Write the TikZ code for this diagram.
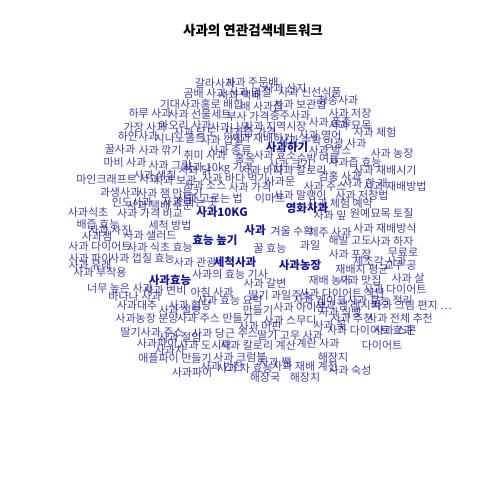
\documentclass[tikz,border=0pt]{standalone}
\usepackage{fontspec}
\newfontfamily\kr{Noto Sans CJK KR}
\usetikzlibrary{backgrounds}
\definecolor{lblblue}{RGB}{0,0,139}
\begin{document}
\begin{tikzpicture}[x=1pt,y=-1pt,
  lbl/.style={font=\kr\fontsize{11}{11}\selectfont, text=lblblue, text opacity=0.75, inner sep=0pt},
  hub/.style={font=\kr\bfseries\fontsize{11.5}{12}\selectfont, text=lblblue, text opacity=0.9, inner sep=0pt},
  edge/.style={draw=black!22, line width=1.3pt},
  ttl/.style={font=\kr\bfseries\fontsize{13.5}{14}\selectfont, text=black, inner sep=0pt}]
\fill[white] (0,0) rectangle (480,480);
\useasboundingbox (0,0) rectangle (480,480);
\node[ttl] (title) at (253,30) {사과의 연관검색네트워크};
\foreach \n/\x/\y/\t in {
 t1/215/83/갈라사과, t2/252/82/사과 주문배, t3/205/93/곰배 사과, t4/240/95/사과 택배,
 t5/310/92/사과 신선식품, t6/338/100/청송사과, t7/180/104/기대사과, t8/222/104/홍로 배합,
 t9/262/106/배 사과즙, t10/300/104/사과 보관법, t11/150/113/하루 사과, t12/200/114/사과 선물세트,
 t13/248/116/부사 가격, t14/290/115/충주사과, t15/350/113/사과 저장, t16/330/122/사과 품종,
 t17/145/127/가장 사과, t18/185/125/아오리 사과, t19/230/127/사과나무, t20/275/126/사과 지역시장,
 t21/138/136/하얀사과, t22/180/138/시나노골드, t23/222/140/사과 껍질, t24/262/138/사과 재배하기,
 t25/320/135/사과 영어, t26/375/132/사과 체험, t27/345/143/양광 사과, t28/120/149/꿀사과,
 t29/160/150/사과 깎기, t30/205/155/취미 사과, t31/245/158/홍옥, t32/318/158/수박 여름,
 t33/392/153/사과 농장, t34/355/162/사과즙 효능, t35/125/162/마비 사과, t36/170/165/사과 그림,
 t37/218/168/사과 10kg 가격, t38/262/170/사과 바다, t39/300/170/사과 칼로리, t40/385/170/사과 재배시기,
 t41/340/176/감홍 사과, t42/118/179/마인크래프트 사과, t43/175/180/사과 보관, t44/235/178/사과 바다 먹기,
 t45/280/181/사과문, t46/325/186/사과 주스, t47/395/186/사과 재배방법, t48/120/192/과생사과,
 t49/170/193/사과 잼 만들기, t50/250/187/사과 가격, t51/362/195/사과 저장법, t52/132/202/인도사과,
 t53/190/202/사과 파는 곳, t54/270/198/이마트, t55/340/203/사과 체험 예약, t56/88/212/사과식초,
 t57/150/213/사과 가격 비교, t58/360/213/원예, t59/392/213/묘목 토질, t60/98/224/배즙 효능,
 t61/170/225/세척 방법, t63/97/236/사과잼, t64/150/235/사과 샐러드, t65/292/231/겨울 수확,
 t66/330/232/제주 사과, t67/385/228/사과 재배방식, t68/100/246/사과 다이어트, t69/160/247/사과 식초 효능,
 t70/270/248/꿀 효능, t71/310/245/과일, t72/350/240/해발 고도, t73/392/241/사과 하자,
 t74/90/258/사과 파이, t75/142/258/사과 껍질 효능, t76/195/262/사과 관광, t77/350/254/사과 포장,
 t78/403/253/무료로, t79/100/272/사과 부작용, t80/230/274/사과의 효능 기사, t81/362/269/재배지 평균,
 t82/380/261/세조각 사과, t83/265/283/사과 갈변, t84/330/280/재배 농가, t85/408/278/사과 살,
 t86/120/288/너무 높은 사과, t87/165/290/사과 변비, t88/212/292/아침 사과, t89/280/295/딸기 과일주스,
 t90/342/293/사과 다이어트 식단, t91/395/289/사과 다이어트, t92/135/296/바나나 사과, t93/137/305/사과대추,
 t94/190/305/사과 혈당, t95/258/310/만들기, t96/300/307/사과 아이콘, t97/348/305/사과 잼 레시피,
 t99/147/318/사과농장 분양, t100/215/318/사과 주스 만들기, t101/290/320/사과 스무디,
 t102/352/318/사과 추천, t103/400/318/사과 전체 추천, t104/152/332/딸기사과 주스, t105/225/333/사과 당근 주스,
 t106/290/335/딸기 고우 사과, t107/370/330/사과 다이어트 효과, t108/157/343/사과파이, t109/205/345/사과 도시락,
 t110/258/345/사과 칼로리 계산, t111/318/343/계란 사과, t112/382/345/다이어트, t113/170/350/사과차,
 t114/175/358/애플파이 만들기, t115/240/357/사과 크럼블, t116/333/357/해장지, t117/192/372/사과파이,
 t118/305/366/사과 재배 계전, t119/265/377/해장국, t120/305/377/해장치, t121/222/366/사과 반찬,
 t122/275/362/사과 쨈, t123/230/150/사과 종류, t124/275/155/사과 효소, t125/195/170/사과 닭,
 t126/160/205/사과 택배 주문, t127/210/198/사과 고르는 법, t128/330/150/사과 박스, t129/365/183/사과 한 개,
 t130/300/195/사과 말랭이, t131/330/215/사과 잎, t132/400/266/교구 공, t133/230/300/사과 효능 요약,
 t134/330/325/사과 꽃, t135/180/310/사과 설탕, t136/360/280/사과 맛집, t137/250/92/사과 명절,
 t138/285/88/사과 산지, t139/195/132/사과 당도, t140/300/140/사과 수확, t141/250/132/사과즙 가격,
 t142/155/175/사과 색칠, t143/290/164/사과 크기, t144/350/125/사과 묘목, t145/205/185/사과 소스,
 t146/320/300/사과 케이크, t147/380/300/사과 효능 정리, t148/260/326/사과 머핀, t149/340/312/사과 식빵,
 t150/395/330/사과 스콘, t151/180/337/사과 절임, t152/245/368/사과 차 효능, t153/350/370/사과 숙성,
 t154/110/230/사과 사진, t155/90/265/사과 유래}
 { \node[lbl] (\n) at (\x,\y) {\t}; }
\node[lbl] (t98) at (412,305) {사과 그림 편지 \ldots};
\node[hub] (c) at (255,230) {사과};
\node[hub] (h1) at (222,212) {사과10KG};
\node[hub] (h2) at (307,208) {영화사과};
\node[hub] (h3) at (300,265) {사과농장};
\node[hub] (h4) at (235,262) {세척사과};
\node[hub] (h5) at (170,280) {사과효능};
\node[hub] (h6) at (287,147) {사과하기};
\node[hub] (h7) at (215,240) {효능 높기};
\begin{scope}[on background layer]
\foreach \b in {t1,t3,t5,t6,t11,t12,t15,t17,t19,t21,t24,t26,t28,t31,t33,t35,t38,t40,t42,t44,t47,t50,t52,t54,t56,t60,t63,t65,t67,t68,t70,t71,t73,t74,t78,t79,t83,t85,t86,t89,t91,t92,t95,t98,t99,t101,t103,t104,t107,t110,t112,t114,t117,t118,t119,t120,t139,t141,t142,t147,t150,t152,h1,h2,h3,h4,h5,h6,h7}
  { \draw[edge] (c.center) -- (\b.center); }
\foreach \a/\b in {h1/t57,h1/t49,h1/t43,h1/t22,h1/t126,h1/t127,h1/t145,h2/t39,h2/t46,h2/t55,h2/t130,h2/t131,
  h3/t84,h3/t90,h3/t97,h3/t102,h3/t136,h3/t146,h3/t149,h4/t80,h4/t94,h4/t100,h4/t105,h4/t133,h4/t148,
  h5/t87,h5/t75,h5/t69,h5/t93,h5/t108,h5/t151,h6/t20,h6/t25,h6/t16,h6/t14,h6/t124,h6/t128,h6/t140}
  { \draw[edge] (\a.center) -- (\b.center); }
\end{scope}
\end{tikzpicture}
\end{document}
